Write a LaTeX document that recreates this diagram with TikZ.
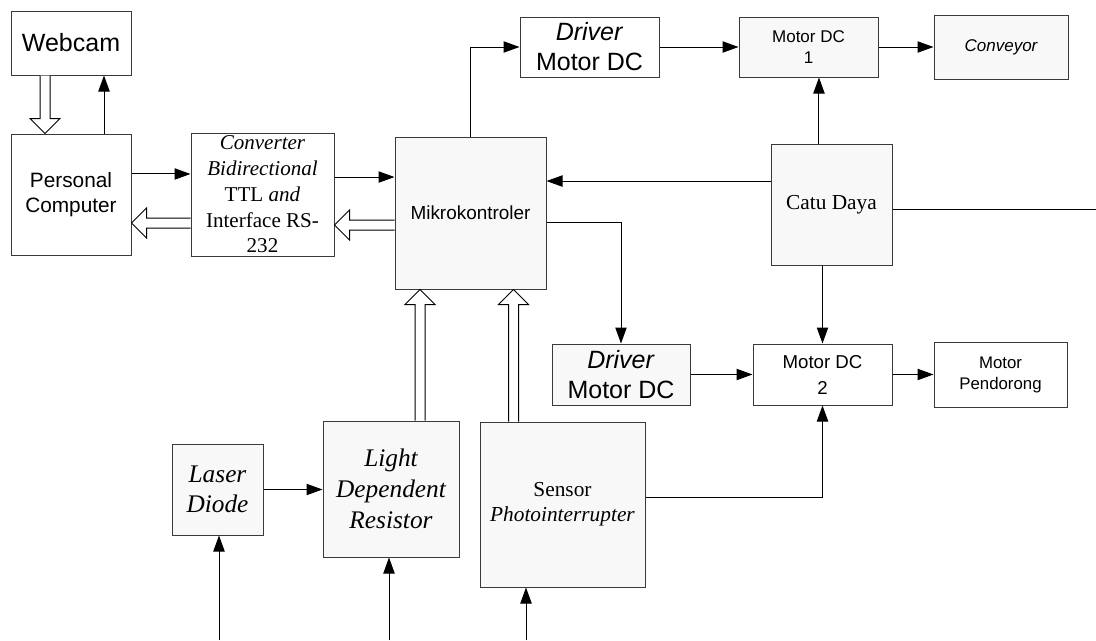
\documentclass[tikz,border=0pt]{standalone}
\usepackage{fontspec}
\setmainfont{Liberation Serif}
\setsansfont{Liberation Sans}
\usepackage{tikz}
\usepackage{xcolor}
\usetikzlibrary{positioning,calc,arrows.meta,shapes}

\definecolor{boxgray}{HTML}{F8F8F8}
\definecolor{edgegray}{HTML}{3A3A3A}

% hollow (bus) arrow from #1 to #2
\newcommand{\busarrow}[2]{%
  \draw[bus] let \p1=(#1), \p2=(#2),
      \n{ang}={atan2(\y2-\y1,\x2-\x1)}, \n{len}={veclen(\x2-\x1,\y2-\y1)} in
    [shift={(\p1)}, rotate=\n{ang}]
    (0pt,3.75pt) -- (\n{len}*1pt-11.25pt,3.75pt) -- (\n{len}*1pt-11.25pt,11.25pt)
    -- (\n{len}*1pt,0pt) -- (\n{len}*1pt-11.25pt,-11.25pt)
    -- (\n{len}*1pt-11.25pt,-3.75pt) -- (0pt,-3.75pt);%
}

\begin{document}
\begin{tikzpicture}[x=0.75pt, y=-0.75pt,
    box/.style={rectangle, draw=edgegray, line width=0.75pt, fill=white, inner sep=0pt, align=center},
    gbox/.style={box, fill=boxgray},
    arrow/.style={-{Triangle[length=12pt,width=8.5pt]}, line width=0.75pt},
    bus/.style={draw=black, fill=white, line width=0.75pt}
]
    \useasboundingbox (0,0) rectangle (1096,640);

    % left part
    \node[box, minimum width=90pt, minimum height=48pt, font=\sffamily\fontsize{18.75}{22}\selectfont] (webcam) at (71,43) {Webcam};
    \node[box, minimum width=90pt, minimum height=90.75pt, font=\sffamily\fontsize{15.6}{18.75}\selectfont] (pc) at (71,194.5) {Personal\\Computer};
    \node[box, minimum width=107.25pt, minimum height=92.25pt, font=\rmfamily\fontsize{15.8}{19.3}\selectfont] (conv) at (262.5,194.5) {\textit{Converter}\\\textit{Bidirectional}\\TTL \textit{and}\\Interface RS-\\232};
    \node[gbox, minimum width=113.25pt, minimum height=114pt, font=\sffamily\fontsize{14.2}{17}\selectfont] (mikro) at (470.5,213) {Mikrokontroler};

    % motors
    \node[box, minimum width=104.25pt, minimum height=45pt, font=\sffamily\fontsize{18.75}{22.5}\selectfont] (drv1) at (589.5,47) {\textit{Driver}\\Motor DC};
    \node[gbox, minimum width=104.25pt, minimum height=45pt, font=\sffamily\fontsize{12.75}{15.75}\selectfont] (mdc1) at (808.5,47) {Motor DC\\1};
    \node[gbox, minimum width=100.5pt, minimum height=48pt, font=\sffamily\itshape\fontsize{12.75}{15.75}\selectfont] (conveyor) at (1001,47) {Conveyor};
    \node[gbox, minimum width=90.75pt, minimum height=90.75pt, font=\rmfamily\fontsize{16}{19}\selectfont] (catu) at (831.5,204.5) {Catu Daya};
    \node[gbox, minimum width=103.5pt, minimum height=45.75pt, font=\sffamily\fontsize{18.75}{22.5}\selectfont] (drv2) at (621,374.5) {\textit{Driver}\\Motor DC};
    \node[box, minimum width=104.25pt, minimum height=45.75pt, font=\sffamily\fontsize{14}{19.5}\selectfont] (mdc2) at (822.5,374.5) {Motor DC\\2};
    \node[box, minimum width=99.75pt, minimum height=48.75pt, font=\sffamily\fontsize{12.6}{15.75}\selectfont] (pendorong) at (1000.5,374.5) {Motor\\Pendorong};

    % sensors
    \node[gbox, minimum width=68.25pt, minimum height=68.25pt, font=\rmfamily\itshape\fontsize{19}{22.5}\selectfont] (laser) at (217.5,489.5) {Laser\\Diode};
    \node[gbox, minimum width=102pt, minimum height=102pt, font=\rmfamily\itshape\fontsize{19}{23.25}\selectfont] (ldr) at (391,489) {Light\\Dependent\\Resistor};
    \node[gbox, minimum width=123.75pt, minimum height=123.75pt, font=\rmfamily\fontsize{16}{18.75}\selectfont] (sensor) at (562.5,504.5) {Sensor\\\textit{Photointerrupter}};

    % free ends
    \coordinate (in1) at (219,640);
    \coordinate (in2) at (389,640);
    \coordinate (in3) at (526,640);
    \coordinate (rightend) at (1096,209);

    % webcam and pc
    \draw[arrow] ([xshift=24.75pt]pc.north) -- ([xshift=24.75pt]webcam.south);
    \coordinate (camdown) at ([xshift=-19.5pt]webcam.south);
    \busarrow{camdown}{camdown |- pc.north}

    \coordinate (pcout) at ([yshift=15.4pt]pc.east);
    \draw[arrow] (pcout) -- (pcout -| conv.west);
    \coordinate (convback) at ([yshift=-21.4pt]conv.west);
    \busarrow{convback}{convback -| pc.east}

    \coordinate (convout) at ([yshift=13.1pt]conv.east);
    \draw[arrow] (convout) -- (convout -| mikro.west);
    \coordinate (mikroback) at ([yshift=-9pt]mikro.west);
    \busarrow{mikroback}{mikroback -| conv.east}

    % to the motors
    \draw[arrow] (mikro.north) |- (drv1.west);
    \draw[arrow] (drv1.east) -- (mdc1.west);
    \draw[arrow] (mdc1.east) -- (conveyor.west);
    \coordinate (mikroout) at ([yshift=-6.75pt]mikro.east);
    \draw[arrow] (mikroout) -| (drv2.north);
    \draw[arrow] (drv2.east) -- (mdc2.west);
    \draw[arrow] (mdc2.east) -- (pendorong.west);

    % power supply
    \coordinate (catuup) at ([xshift=-9.4pt]catu.north);
    \draw[arrow] (catuup) -- (catuup |- mdc1.south);
    \coordinate (catuleft) at ([yshift=17.6pt]catu.west);
    \draw[arrow] (catuleft) -- (catuleft -| mikro.east);
    \draw[line width=0.75pt] (catu.east |- rightend) -- (rightend);
    \draw[arrow] (catu.south -| mdc2.north) -- (mdc2.north);

    % sensors
    \coordinate (sensorout) at ([yshift=5.6pt]sensor.east);
    \draw[arrow] (sensorout) -| (mdc2.south);
    \draw[arrow] (laser.east) -- (laser.east -| ldr.west);
    \draw[arrow] (in1) -- (in1 |- laser.south);
    \draw[arrow] (in2) -- (in2 |- ldr.south);
    \draw[arrow] (in3) -- (in3 |- sensor.south);
    \coordinate (ldrup) at ([xshift=21.75pt]ldr.north);
    \busarrow{ldrup}{ldrup |- mikro.south}
    \coordinate (sensorup) at ([xshift=-36.75pt]sensor.north);
    \busarrow{sensorup}{sensorup |- mikro.south}
\end{tikzpicture}
\end{document}
